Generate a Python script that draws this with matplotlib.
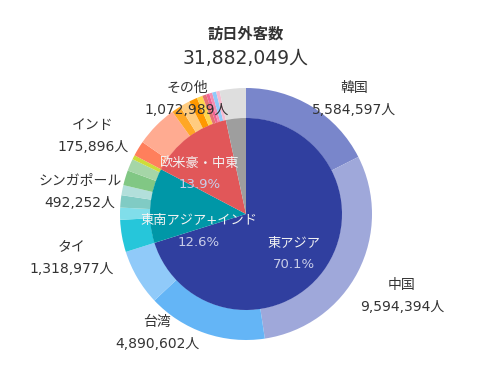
import matplotlib
matplotlib.use('Agg')
import matplotlib.pyplot as plt

# digits / latin from DejaVu (wide, like the original), kana & kanji from Noto CJK
plt.rcParams['font.family'] = ['DejaVu Sans', 'Noto Sans CJK JP']

# inner ring: regions
region_names = ['東アジア', '東南アジア+インド', '欧米豪・中東', 'その他']
region_colors = ['#303f9f', '#0097a7', '#e15759', '#9e9e9e']

# outer ring: countries (clockwise from top)
country_names = ['韓国', '中国', '台湾', '香港',
                 'タイ', 'シンガポール', 'マレーシア', 'インドネシア', 'フィリピン', 'ベトナム', 'インド',
                 '豪州', '米国', 'カナダ', '英国', 'フランス', 'ドイツ', 'イタリア', 'スペイン', 'ロシア', '北欧地域', '中東地域',
                 'その他']
country_values = [5584597, 9594394, 4890602, 2290792,
                  1318977, 492252, 501592, 412779, 613114, 495051, 175896,
                  621771, 1723861, 375262, 424279, 336333, 236544, 162769, 130243, 120043, 165000, 142909,
                  1072989]
country_region = [0, 0, 0, 0,
                  1, 1, 1, 1, 1, 1, 1,
                  2, 2, 2, 2, 2, 2, 2, 2, 2, 2, 2,
                  3]
country_colors = ['#7986cb', '#9fa8da', '#64b5f6', '#90caf9',
                  '#26c6da', '#80deea', '#80cbc4', '#b2dfdb', '#81c784', '#a5d6a7', '#cddc39',
                  '#ff7f5c', '#ffab91', '#ffa726', '#ffcc80', '#ff9800', '#ffd54f', '#e57373', '#f06292', '#f48fb1', '#90caf9', '#f8bbd0',
                  '#dedede']

# countries with an outside label
labelled = ['韓国', '中国', '台湾', 'タイ', 'シンガポール', 'インド', 'その他']
label_pos = {'韓国': (354, 99), '中国': (402, 296), '台湾': (157, 333), 'タイ': (72, 258),
             'シンガポール': (80, 192), 'インド': (93, 136), 'その他': (187, 99)}

total = sum(country_values)
region_values = [0, 0, 0, 0]
for v, r in zip(country_values, country_region):
    region_values[r] += v

W, H = 500, 370
fig = plt.figure(figsize=(W / 100, H / 100), dpi=100)
cx, cy, R = 246, 214, 126
ax = fig.add_axes([(cx - R) / W, (H - cy - R) / H, 2 * R / W, 2 * R / H])
ax.set_aspect('equal')
ax.axis('off')

ax.pie(country_values, radius=1.0, colors=country_colors, startangle=90, counterclock=False,
       wedgeprops=dict(width=0.24, linewidth=0))
ax.pie(region_values, radius=0.762, colors=region_colors, startangle=90, counterclock=False,
       wedgeprops=dict(linewidth=0))
ax.set_xlim(-1, 1)
ax.set_ylim(-1, 1)

def px(x, y):
    return x / W, 1 - y / H

txt = '#333333'
fig.text(*px(246, 34), '訪日外客数', ha='center', va='center', fontsize=11, fontweight='bold', color=txt)
fig.text(*px(246, 59), f'{total:,}人', ha='center', va='center', fontsize=13.5, color=txt)

for name in labelled:
    x, y = label_pos[name]
    v = country_values[country_names.index(name)]
    fig.text(*px(x, y - 11), name, ha='center', va='center', fontsize=10, color=txt)
    fig.text(*px(x, y + 11), f'{v:,}人', ha='center', va='center', fontsize=10, color=txt)

inner_pos = [(294, 254), (199, 231), (200, 174)]
for i, (x, y) in enumerate(inner_pos):
    pct = region_values[i] / total * 100
    fig.text(*px(x, y - 11), region_names[i], ha='center', va='center', fontsize=9.5, color='#f2f2f2')
    fig.text(*px(x, y + 11), f'{pct:.1f}%', ha='center', va='center', fontsize=9.5, color='#c9cde8')

fig.savefig('out.png', dpi=100)
